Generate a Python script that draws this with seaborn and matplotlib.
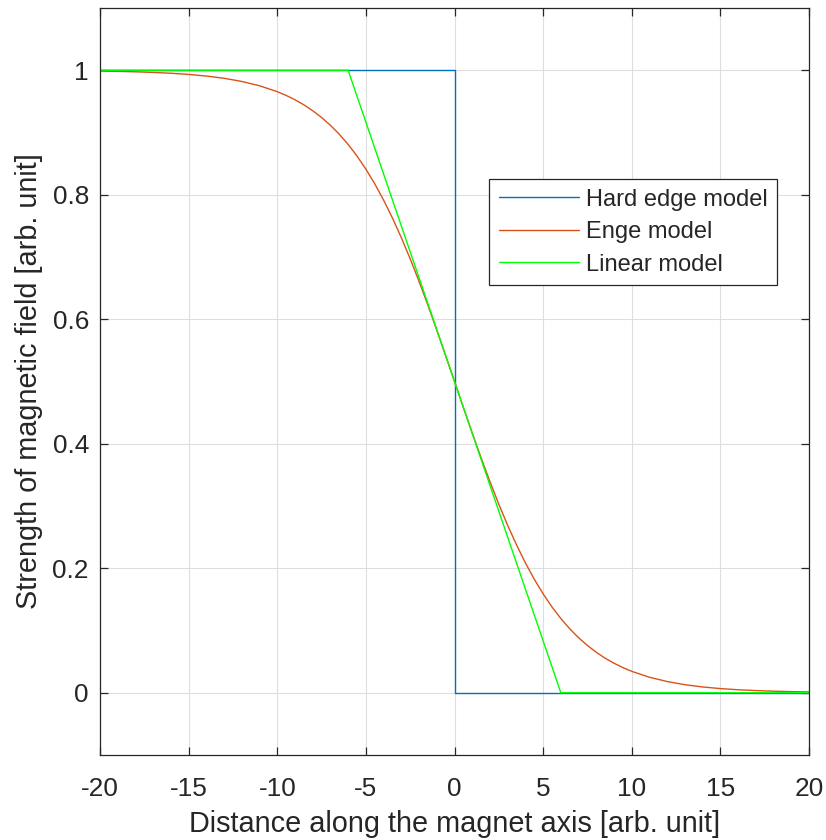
import numpy as np
import pandas as pd
import matplotlib
matplotlib.use("Agg")
import matplotlib.pyplot as plt
import seaborn as sns

# ---- data ----
hard_x = [-20, 0, 0, 20]
hard_y = [1, 1, 0, 0]

linear_x = [-20, -6, 6, 20]
linear_y = [1, 1, 0, 0]

enge_x = [-20, -19, -18, -17, -16, -15, -14, -13, -12, -11, -10,
          -9.5, -9, -8.5, -8, -7.5, -7, -6.5, -6, -5.5, -5, -4.5, -4, -3.5, -3,
          -2.5, -2, -1.5, -1, -0.5, 0,
          0.5, 1, 1.5, 2, 2.5, 3, 3.5, 4, 4.5, 5, 5.5, 6, 6.5, 7, 7.5, 8,
          8.5, 9, 9.5, 10,
          11, 12, 13, 14, 15, 16, 17, 18, 19, 20]
enge_y = [0.9987, 0.9982, 0.9975, 0.9965, 0.9952, 0.9933, 0.9907, 0.9871, 0.9820, 0.9751, 0.9656,
          0.9596, 0.9526, 0.9445, 0.9350, 0.9241, 0.9116, 0.8972, 0.8808, 0.8622, 0.8411,
          0.8176, 0.7914, 0.7625, 0.7311,
          0.6971, 0.6608, 0.6225, 0.5826, 0.5416, 0.5,
          0.4584, 0.4174, 0.3775, 0.3392, 0.3029, 0.2689, 0.2375, 0.2086, 0.1824, 0.1589,
          0.1378, 0.1192, 0.1028, 0.0884, 0.0759, 0.0650,
          0.0555, 0.0474, 0.0404, 0.0344,
          0.0249, 0.0180, 0.0129, 0.0093, 0.0067, 0.0048, 0.0035, 0.0025, 0.0018, 0.0013]

series_names = ["Hard edge model", "Enge model", "Linear model"]
x_ticks = [-20, -15, -10, -5, 0, 5, 10, 15, 20]
y_ticks = [0, 0.2, 0.4, 0.6, 0.8, 1]
y_tick_labels = ["0", "0.2", "0.4", "0.6", "0.8", "1"]
x_label = "Distance along the magnet axis [arb. unit]"
y_label = "Strength of magnetic field [arb. unit]"

colors = ["#0072BD", "#D95319", "#00FF00"]

sns.set_theme(style="whitegrid")
plt.rcParams["font.family"] = ["Liberation Sans", "DejaVu Sans"]

fig = plt.figure(figsize=(8.26, 8.40), dpi=100)
ax = fig.add_axes([100 / 826, 1 - 755 / 840, 709 / 826, 747 / 840])

df_hard = pd.DataFrame({"x": hard_x, "y": hard_y})
df_enge = pd.DataFrame({"x": enge_x, "y": enge_y})
df_lin = pd.DataFrame({"x": linear_x, "y": linear_y})

lw = 1.0
sns.lineplot(data=df_hard, x="x", y="y", ax=ax, estimator=None, sort=False,
             color=colors[0], linewidth=lw, label=series_names[0])
sns.lineplot(data=df_enge, x="x", y="y", ax=ax, estimator=None, sort=False,
             color=colors[1], linewidth=lw, label=series_names[1])
sns.lineplot(data=df_lin, x="x", y="y", ax=ax, estimator=None, sort=False,
             color=colors[2], linewidth=lw, label=series_names[2])

ax.set_xlim(-20, 20)
ax.set_ylim(-0.1, 1.1)
ax.set_xticks(x_ticks)
ax.set_xticklabels([str(t) for t in x_ticks])
ax.set_yticks(y_ticks)
ax.set_yticklabels(y_tick_labels)

fs_tick = 18.9
fs_label = 20.8
fs_leg = 17
ax.set_xlabel(x_label, fontsize=fs_label, color="#262626", labelpad=7)
ax.set_ylabel(y_label, fontsize=fs_label, color="#262626", labelpad=7)

ax.set_facecolor("white")
ax.grid(True, color="#dedede", linewidth=0.8)
for side in ["top", "bottom", "left", "right"]:
    ax.spines[side].set_visible(True)
    ax.spines[side].set_color("#262626")
    ax.spines[side].set_linewidth(0.9)

ax.tick_params(axis="both", direction="in", length=6, width=0.9, color="#262626",
               labelsize=fs_tick, labelcolor="#262626", top=True, right=True,
               bottom=True, left=True)
ax.tick_params(axis="x", pad=15.5)
ax.tick_params(axis="y", pad=8)

leg = ax.legend(loc="upper left", bbox_to_anchor=(0.549, 0.771), fontsize=fs_leg,
                frameon=True, fancybox=False, framealpha=1, edgecolor="#262626",
                handlelength=3.4, handletextpad=0.3, labelspacing=0.45,
                borderpad=0.4, borderaxespad=0)
leg.get_frame().set_linewidth(0.9)
for t in leg.get_texts():
    t.set_color("#262626")

fig.savefig("out.png", dpi=100, facecolor="white")
